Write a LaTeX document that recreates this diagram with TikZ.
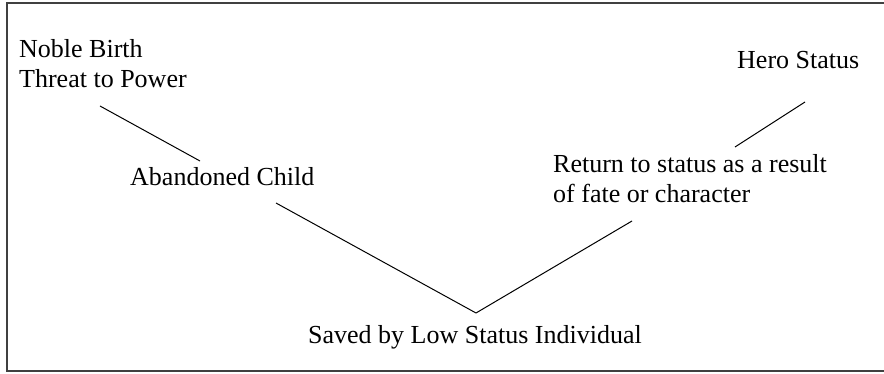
\documentclass[tikz,border=0pt]{standalone}
\usepackage{fontspec}
\setmainfont{Liberation Serif}
\usetikzlibrary{positioning}
\tikzstyle{lbl}=[inner sep=0pt,anchor=base west,align=left,
  font=\fontsize{26}{30}\selectfont]
\tikzstyle{ln}=[line width=1pt,draw=black]
\tikzstyle{frame}=[line width=2pt,draw=black!75]

\begin{document}
\begin{tikzpicture}[x=1pt,y=-1pt]
        \useasboundingbox (0,0) rectangle (884,374);
        \draw[style=frame] (890,3) -- (7,3) -- (7,371) -- (890,371);
        \node[style=lbl] (0) at (19,88) {Noble Birth\\Threat to Power};
        \node[style=lbl] (1) at (130,186) {Abandoned Child};
        \node[style=lbl] (2) at (308,343) {Saved by Low Status Individual};
        \node[style=lbl] (3) at (553,203) {Return to status as a result\\of fate or character};
        \node[style=lbl] (4) at (737,69) {Hero Status};
        \coordinate (a0) at (100,106);
        \coordinate (a1) at (200,161);
        \coordinate (b0) at (276,203);
        \coordinate (b1) at (476,313);
        \coordinate (c1) at (632,221);
        \coordinate (d0) at (735,147);
        \coordinate (d1) at (805,102);
        \draw[style=ln] (a0) to (a1);
        \draw[style=ln] (b0) to (b1);
        \draw[style=ln] (b1) to (c1);
        \draw[style=ln] (d0) to (d1);
    \end{tikzpicture}
\end{document}
